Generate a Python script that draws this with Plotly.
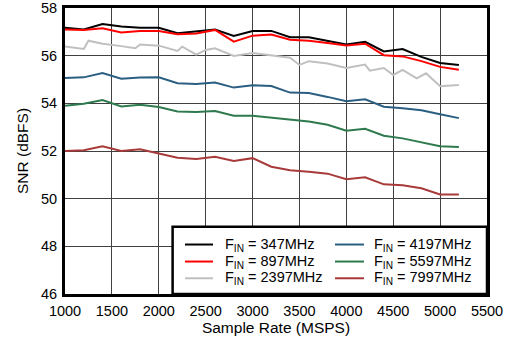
import plotly.graph_objects as go

sample_rate = [1000, 1200, 1400, 1600, 1800, 2000, 2200, 2400, 2600, 2800, 3000,
               3200, 3400, 3600, 3800, 4000, 4200, 4400, 4600, 4800, 5000, 5200]

snr_347 = [57.17, 57.10, 57.33, 57.22, 57.17, 57.17, 56.94, 57.03, 57.10, 56.83, 57.03,
           57.04, 56.77, 56.77, 56.63, 56.47, 56.58, 56.18, 56.28, 55.95, 55.69, 55.61]
snr_897 = [57.10, 57.08, 57.15, 56.97, 57.03, 57.03, 56.90, 56.93, 57.08, 56.59, 56.84,
           56.89, 56.67, 56.63, 56.53, 56.43, 56.50, 56.02, 55.97, 55.77, 55.53, 55.41]
snr_4197 = [55.06, 55.09, 55.27, 55.03, 55.08, 55.09, 54.84, 54.81, 54.87, 54.66, 54.76,
            54.73, 54.45, 54.43, 54.27, 54.09, 54.17, 53.86, 53.79, 53.71, 53.54, 53.38]
snr_5597 = [53.90, 53.98, 54.14, 53.87, 53.94, 53.85, 53.66, 53.64, 53.68, 53.48, 53.48,
            53.41, 53.33, 53.24, 53.10, 52.85, 52.93, 52.64, 52.53, 52.36, 52.20, 52.17]
snr_7997 = [52.00, 52.03, 52.20, 52.00, 52.07, 51.88, 51.72, 51.66, 51.76, 51.58, 51.70,
            51.34, 51.19, 51.13, 51.05, 50.82, 50.90, 50.60, 50.56, 50.44, 50.18, 50.18]

sample_rate_2397 = [1000, 1200, 1250, 1400, 1600, 1750, 1800, 2000, 2200, 2250, 2400,
                    2500, 2600, 2800, 3000, 3200, 3400, 3500, 3600, 3800, 4000, 4200,
                    4250, 4400, 4500, 4600, 4750, 4850, 5000, 5200]
snr_2397 = [56.38, 56.28, 56.63, 56.50, 56.40, 56.31, 56.47, 56.42, 56.20, 56.38, 56.04,
            56.24, 56.31, 55.99, 56.11, 56.00, 55.91, 55.61, 55.77, 55.67, 55.48, 55.63,
            55.37, 55.48, 55.19, 55.40, 55.05, 55.26, 54.72, 54.77]

x_ticks = [1000, 1500, 2000, 2500, 3000, 3500, 4000, 4500, 5000, 5500]
y_ticks = [46, 48, 50, 52, 54, 56, 58]

series_names = ["F<sub>IN</sub> = 347MHz", "F<sub>IN</sub> = 897MHz",
                "F<sub>IN</sub> = 2397MHz", "F<sub>IN</sub> = 4197MHz",
                "F<sub>IN</sub> = 5597MHz", "F<sub>IN</sub> = 7997MHz"]
series_x = [sample_rate, sample_rate, sample_rate_2397,
            sample_rate, sample_rate, sample_rate]
series_y = [snr_347, snr_897, snr_2397, snr_4197, snr_5597, snr_7997]
series_colors = ["#000000", "#ff0000", "#c0c0c0", "#2b5f82", "#2e7a4e", "#a83a3a"]

FONT = "Liberation Sans, Arial, Helvetica, sans-serif"

fig = go.Figure()
for name, xs, ys, color in zip(series_names, series_x, series_y, series_colors):
    fig.add_trace(go.Scatter(x=xs, y=ys, mode="lines", name=name,
                             line=dict(color=color, width=2), showlegend=False))

# Manual two-column legend box (paper coordinates)
shapes = [dict(type="rect", xref="paper", yref="paper",
               x0=0.255, x1=1.0, y0=0.0, y1=0.235,
               line=dict(color="black", width=2.5), fillcolor="white",
               layer="above")]
annotations = []
row_y = [0.173, 0.1135, 0.055]
col_line_x = [(0.2844, 0.3507), (0.6398, 0.7085)]
col_text_x = [0.3737, 0.7275]
for i, (name, color) in enumerate(zip(series_names, series_colors)):
    col, row = divmod(i, 3)
    x0, x1 = col_line_x[col]
    shapes.append(dict(type="line", xref="paper", yref="paper",
                       x0=x0, x1=x1, y0=row_y[row], y1=row_y[row],
                       line=dict(color=color, width=2), layer="above"))
    annotations.append(dict(xref="paper", yref="paper", x=col_text_x[col],
                            y=row_y[row], xanchor="left", yanchor="middle",
                            text=name, showarrow=False,
                            font=dict(family=FONT, size=14.5, color="black")))

fig.update_layout(
    width=508, height=341,
    margin=dict(l=65, r=21, t=8, b=47, autoexpand=False),
    paper_bgcolor="white", plot_bgcolor="white",
    font=dict(family=FONT, size=14.5, color="black"),
    showlegend=False,
    shapes=shapes,
    annotations=annotations,
)

fig.update_xaxes(range=[1000, 5500], tickvals=x_ticks,
                 ticktext=[str(v) for v in x_ticks], automargin=False,
                 ticklabeloverflow="allow", tickfont=dict(size=14.5),
                 showgrid=True, gridcolor="#404040", gridwidth=1.2,
                 showline=True, linecolor="black", linewidth=3, mirror=True,
                 ticks="", zeroline=False, ticklabelstandoff=2,
                 title=dict(text="Sample Rate (MSPS)", standoff=0,
                            font=dict(size=15.5)))
fig.update_yaxes(range=[46, 58], tickvals=y_ticks,
                 ticktext=[str(v) for v in y_ticks], automargin=False,
                 ticklabeloverflow="allow", tickfont=dict(size=14.5),
                 showgrid=True, gridcolor="#404040", gridwidth=1.2,
                 showline=True, linecolor="black", linewidth=3, mirror=True,
                 ticks="", zeroline=False, ticklabelstandoff=2,
                 title=dict(text="SNR (dBFS)", standoff=9,
                            font=dict(size=15.5)))

fig.write_html("out.html", config={"displayModeBar": False},
               post_script="document.body.style.margin='0';document.body.style.overflow='hidden';")
